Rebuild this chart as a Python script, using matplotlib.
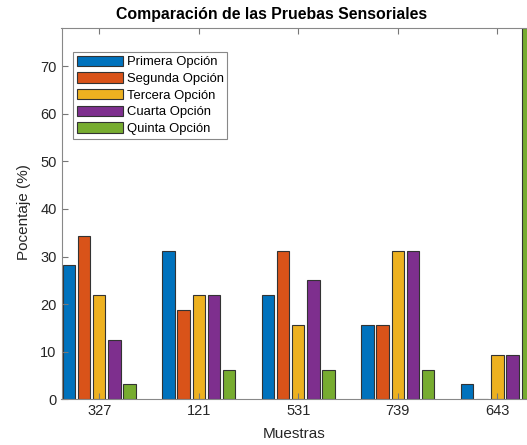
import numpy as np
import matplotlib.pyplot as plt

plt.rcParams['font.family'] = ['Liberation Sans', 'DejaVu Sans']

muestras = ['327', '121', '531', '739', '643']
series = ['Primera Opción', 'Segunda Opción', 'Tercera Opción', 'Cuarta Opción', 'Quinta Opción']
primera = [28.125, 31.25, 21.875, 15.625, 3.125]
segunda = [34.375, 18.75, 31.25, 15.625, 0.0]
tercera = [21.875, 21.875, 15.625, 31.25, 9.375]
cuarta = [12.5, 21.875, 25.0, 31.25, 9.375]
quinta = [3.125, 6.25, 6.25, 6.25, 78.125]
colors = ['#0072BD', '#D95319', '#EDB120', '#7E2F8E', '#77AC30']

fig = plt.figure(figsize=(5.27, 4.45), dpi=100)
ax = fig.add_axes([61.5/527, 0.1027, (535-61.5)/527, 0.835])

x = np.arange(1, len(muestras) + 1)
step = 0.153
w = 0.125
for i, (vals, name) in enumerate(zip([primera, segunda, tercera, cuarta, quinta], series)):
    ax.bar(x + (i - 2) * step, vals, w, color=colors[i], edgecolor='#333333',
           linewidth=0.8, label=name)

ax.set_xlim(0.621, 5.379)
ax.set_ylim(0, 78.1)
ax.set_xticks(x)
ax.set_xticklabels(muestras)
ax.set_yticks(np.arange(0, 71, 10))
ax.tick_params(direction='in', length=4, color='#777777', labelsize=10.5,
               labelcolor='#262626', top=True, right=False, width=0.8)
for s in ax.spines.values():
    s.set_color('#888888')
    s.set_linewidth(0.8)

fig.text(271.5/527, 1 - 14/445, 'Comparación de las Pruebas Sensoriales',
         ha='center', va='center', fontsize=11.4, fontweight='bold')
fig.text(294/527, 1 - 434/445, 'Muestras', ha='center', va='center',
         fontsize=11, color='#262626')
fig.text(24/527, 1 - 212/445, 'Pocentaje (%)', ha='center', va='center',
         fontsize=11, color='#262626', rotation=90)

leg = ax.legend(loc='upper left', bbox_to_anchor=(11.5/473.5, 1 - 24/371.6),
                fontsize=9.4, handlelength=3.5, handleheight=0.85,
                handletextpad=0.3, labelspacing=0.3, borderpad=0.3,
                borderaxespad=0, fancybox=False, framealpha=1)
leg.get_frame().set_edgecolor('#888888')
leg.get_frame().set_linewidth(0.8)

fig.savefig('out.png', dpi=100)
